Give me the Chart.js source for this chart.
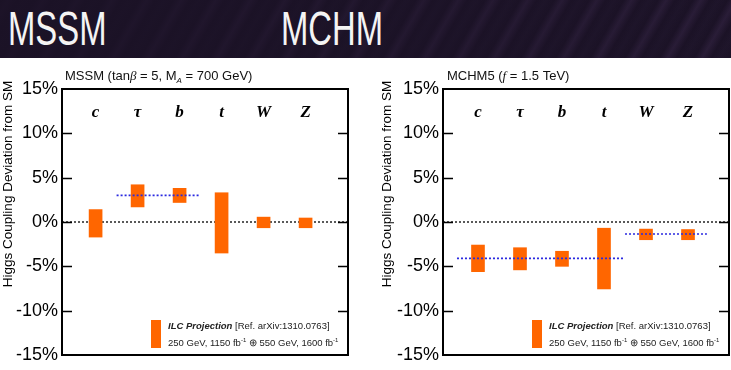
<!DOCTYPE html>
<html>
<head>
<meta charset="utf-8">
<script src="https://cdn.jsdelivr.net/npm/chart.js@4.4.0/dist/chart.umd.min.js"></script>
<style>
  body { margin: 0; width: 731px; height: 370px; background: #fff; position: relative; overflow: hidden; }
  #cabecera {
    position: absolute; left: 0; top: 0; width: 731px; height: 58px;
    background:
      linear-gradient(to right, rgba(27,18,38,0.9) 0%, rgba(27,18,38,0.5) 60%, rgba(27,18,38,0.15) 100%),
      repeating-linear-gradient(120deg, rgba(62,44,80,0) 0px, rgba(62,44,80,0.5) 7px, rgba(62,44,80,0) 15px, rgba(40,30,55,0.3) 22px, rgba(62,44,80,0) 30px),
      #1b1226;
  }
  .grande {
    position: absolute; top: 4px; font-family: "Liberation Sans", Arial, sans-serif;
    font-size: 49px; line-height: 49px; color: #f4f4f4;
    transform: scaleX(0.67); transform-origin: 0 0;
  }
  .caja { position: absolute; top: 58px; }
</style>
</head>
<body>
<div id="cabecera">
  <span class="grande" style="left:8px">MSSM</span>
  <span class="grande" style="left:281px">MCHM</span>
</div>
<div class="caja" style="left:0"><canvas id="graficoMSSM" width="370" height="312"></canvas></div>
<div class="caja" style="left:370px"><canvas id="graficoMCHM" width="361" height="312"></canvas></div>

<script>
// Datos (desviación en %)
const categorias = ['c', 'τ', 'b', 't', 'W', 'Z'];
const posiciones = [1, 2, 3, 4, 5, 6];
const ticksY = [-15, -10, -5, 0, 5, 10, 15];

const mssmBajo = [-1.7, 1.7, 2.2, -3.5, -0.65, -0.65];
const mssmAlto = [1.4, 4.2, 3.8, 3.3, 0.55, 0.45];
const mssmPrediccion = [3.0];
const mssmPredDesde = [1.5];
const mssmPredHasta = [3.5];

const mchmBajo = [-5.6, -5.4, -5.0, -7.55, -2.0, -2.0];
const mchmAlto = [-2.6, -2.9, -3.3, -0.7, -0.8, -0.85];
const mchmPrediccion = [-4.1, -1.35];
const mchmPredDesde = [0.5, 4.5];
const mchmPredHasta = [4.5, 6.45];

const FUENTE = '"Liberation Sans", Arial, sans-serif';
const SERIF = '"Liberation Serif", "Times New Roman", serif';

// Dibuja trozos de texto seguidos (para subíndices / cursivas)
function textoPorPartes(ctx, partes, x, y) {
    partes.forEach(p => {
        ctx.font = p.font;
        ctx.fillText(p.t, x, y + (p.dy || 0));
        x += ctx.measureText(p.t).width;
    });
}

// Marco, ticks internos, etiquetas, títulos y leyenda
const decoracion = {
    id: 'decoracion',
    afterDatasetsDraw(chart, args, opts) {
        const { ctx, chartArea: a, scales: { x, y } } = chart;
        ctx.save();

        ctx.strokeStyle = '#000';
        ctx.lineWidth = 2;
        ctx.strokeRect(a.left, a.top, a.right - a.left, a.bottom - a.top);

        ctx.lineWidth = 1.5;
        ticksY.slice(1, -1).forEach(v => {
            const py = Math.round(y.getPixelForValue(v)) + 0.5;
            ctx.beginPath();
            ctx.moveTo(a.left, py); ctx.lineTo(a.left + 10, py);
            ctx.moveTo(a.right - 10, py); ctx.lineTo(a.right, py);
            ctx.stroke();
        });

        // nombres de los acoplamientos
        ctx.fillStyle = '#000';
        ctx.font = 'bold italic 17px ' + SERIF;
        ctx.textAlign = 'center';
        ctx.textBaseline = 'alphabetic';
        categorias.forEach((c, i) => {
            ctx.fillText(c, x.getPixelForValue(posiciones[i]), y.getPixelForValue(11.8));
        });

        // título del eje Y
        ctx.save();
        ctx.translate(opts.ejeX, 126);
        ctx.rotate(-Math.PI / 2);
        ctx.font = '13.5px ' + FUENTE;
        ctx.textBaseline = 'middle';
        ctx.fillText('Higgs Coupling Deviation from SM', 0, 0);
        ctx.restore();

        // título del gráfico
        ctx.textAlign = 'left';
        ctx.fillStyle = '#111';
        textoPorPartes(ctx, opts.titulo, opts.tituloX, 22);

        // leyenda
        ctx.fillStyle = '#ff6600';
        ctx.fillRect(a.left + 89, a.bottom - 35, 10, 28);
        ctx.fillStyle = '#222';
        const lx = a.left + 106;
        textoPorPartes(ctx, [
            { t: 'ILC Projection ', font: 'bold italic 9.5px ' + FUENTE },
            { t: '[Ref. arXiv:1310.0763]', font: '9.5px ' + FUENTE }
        ], lx, a.bottom - 26);
        textoPorPartes(ctx, [
            { t: '250 GeV, 1150 fb', font: '9.5px ' + FUENTE },
            { t: '-1', font: '6px ' + FUENTE, dy: -4 },
            { t: ' ⊕ 550 GeV, 1600 fb', font: '9.5px ' + FUENTE },
            { t: '-1', font: '6px ' + FUENTE, dy: -4 }
        ], lx, a.bottom - 9.5);

        ctx.restore();
    }
};

function crearGrafico(id, bajo, alto, pred, desde, hasta, cfg) {
    const barras = posiciones.map((p, i) => ({ x: p, y: [bajo[i], alto[i]] }));
    const lineas = pred.map((v, i) => ({
        type: 'line',
        data: [{ x: desde[i], y: v }, { x: hasta[i], y: v }],
        borderColor: '#2a2ae0',
        borderWidth: 1.6,
        borderDash: [2, 2],
        pointRadius: 0,
        order: 1
    }));

    new Chart(document.getElementById(id), {
        type: 'bar',
        data: {
            datasets: [
                {
                    type: 'line',
                    data: [{ x: cfg.xMin, y: 0 }, { x: cfg.xMax, y: 0 }],
                    borderColor: '#000',
                    borderWidth: 1.3,
                    borderDash: [2, 2],
                    pointRadius: 0,
                    order: 3
                },
                {
                    data: barras,
                    backgroundColor: '#ff6600',
                    borderWidth: 0,
                    barThickness: 13,
                    order: 2
                },
                ...lineas
            ]
        },
        options: {
            responsive: false,
            animation: false,
            layout: { padding: { left: 0, top: 31, right: cfg.derecha, bottom: 15 } },
            plugins: {
                legend: { display: false },
                tooltip: { enabled: false },
                decoracion: { titulo: cfg.titulo, tituloX: cfg.tituloX, ejeX: cfg.ejeX }
            },
            scales: {
                x: { type: 'linear', min: cfg.xMin, max: cfg.xMax, offset: false, display: false },
                y: {
                    min: -15, max: 15,
                    afterFit: s => { s.width = cfg.anchoY; },
                    grid: { display: false, drawTicks: false },
                    border: { display: false },
                    ticks: {
                        stepSize: 5,
                        padding: 4,
                        color: '#000',
                        font: { family: FUENTE, size: 18 },
                        callback: v => ticksY.includes(v) ? v + '%' : ''
                    }
                }
            }
        },
        plugins: [decoracion]
    });
}

crearGrafico('graficoMSSM', mssmBajo, mssmAlto, mssmPrediccion, mssmPredDesde, mssmPredHasta, {
    xMin: 0.2, xMax: 7.01, anchoY: 62, derecha: 22, ejeX: 8, tituloX: 65,
    titulo: [
        { t: 'MSSM (tan', font: '13px ' + FUENTE },
        { t: 'β', font: 'italic 13px ' + SERIF },
        { t: ' = 5, M', font: '13px ' + FUENTE },
        { t: 'A', font: 'italic 8px ' + FUENTE, dy: 3 },
        { t: ' = 700 GeV)', font: '13px ' + FUENTE }
    ]
});

crearGrafico('graficoMCHM', mchmBajo, mchmAlto, mchmPrediccion, mchmPredDesde, mchmPredHasta, {
    xMin: 0.167, xMax: 6.976, anchoY: 73, derecha: 2, ejeX: 17.5, tituloX: 77,
    titulo: [
        { t: 'MCHM5 (', font: '13px ' + FUENTE },
        { t: 'f', font: 'italic 13px ' + SERIF },
        { t: ' = 1.5 TeV)', font: '13px ' + FUENTE }
    ]
});
</script>
</body>
</html>
